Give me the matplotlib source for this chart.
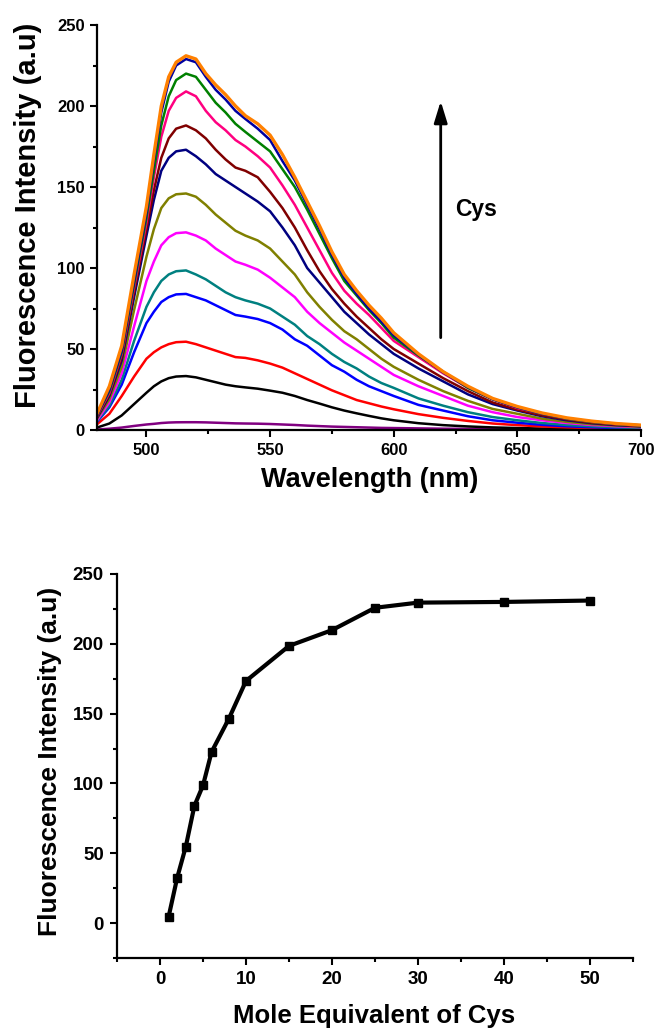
import matplotlib
matplotlib.use('Agg')
import matplotlib.pyplot as plt
from matplotlib.ticker import MultipleLocator

# ---------------- data ----------------
wavelength = [480, 485, 490, 495, 500, 503, 506, 509, 512, 516, 520, 524, 528, 532,
              536, 540, 545, 550, 555, 560, 565, 570, 575, 580, 585, 590, 595, 600,
              610, 620, 630, 640, 650, 660, 670, 680, 690, 700]

spec_purple = [0.3, 0.8, 1.5, 2.5, 3.4, 3.8, 4.3, 4.6, 4.75, 4.8, 4.8, 4.7, 4.5, 4.3,
               4.1, 4.0, 3.9, 3.7, 3.4, 3.1, 2.7, 2.4, 2.1, 1.9, 1.7, 1.5, 1.3, 1.2,
               1.0, 0.8, 0.7, 0.6, 0.5, 0.4, 0.35, 0.3, 0.25, 0.2]
spec_black = [1.5, 4, 9, 16, 23, 27, 30, 32, 33, 33.3, 32.5, 31, 29.5, 28,
              27, 26.3, 25.5, 24.3, 23, 21, 18.5, 16.3, 14, 12, 10.3, 8.7, 7.2, 6,
              4.2, 3, 2.2, 1.6, 1.2, 0.9, 0.7, 0.5, 0.4, 0.3]
spec_red = [3.5, 10, 21, 33, 44, 48, 51, 53, 54.2, 54.5, 53, 51, 49, 47,
            45, 44.5, 43, 41, 38.5, 35, 31.5, 28, 24.5, 21.5, 18.5, 16.5, 14.5, 12.8,
            9.8, 7.5, 5.6, 4, 3, 2.2, 1.6, 1.2, 0.9, 0.7]
spec_blue = [5, 14, 28, 48, 66, 73, 79, 82, 83.7, 84, 82, 80, 77, 74,
             71, 70, 68.5, 66, 62, 56, 52, 46, 40, 36, 31, 27, 24, 21,
             15.5, 12, 8.5, 6, 4.5, 3.2, 2.3, 1.7, 1.2, 0.9]
spec_teal = [5.5, 15, 31, 55, 76, 85, 92, 96, 98, 98.5, 96, 93, 89, 85,
             82, 80, 78, 75, 70, 65, 58, 53, 47, 42, 38, 33, 29, 26,
             19.5, 15, 11, 8, 6, 4.3, 3.1, 2.3, 1.7, 1.3]
spec_magenta = [6, 17, 35, 64, 92, 104, 114, 119, 121.5, 122, 120, 117, 112, 108,
                104, 102, 99, 94, 88, 82, 73, 66, 60, 54, 49, 44, 39, 34,
                27, 21, 15, 11, 8, 6, 4.3, 3.1, 2.3, 1.7]
spec_olive = [7, 19, 39, 74, 107, 124, 137, 143, 145.5, 146, 144, 139, 133, 128,
              123, 120, 117, 112, 104, 96, 85, 76, 68, 61, 56, 50, 44, 39,
              31, 24, 18, 13, 10, 7, 5, 3.6, 2.7, 2]
spec_navy = [7.5, 21, 43, 82, 120, 142, 160, 168, 172, 173, 169, 164, 158, 154,
             150, 146, 141, 135, 125, 114, 100, 91, 82, 73, 66, 59, 53, 47,
             38, 30, 22, 16, 12, 8.5, 6, 4.2, 3, 2.3]
spec_wine = [8, 22, 45, 85, 124, 148, 168, 180, 186, 188, 185, 180, 173, 167,
             162, 160, 156, 147, 137, 125, 111, 98, 87, 78, 70, 63, 56, 50,
             41, 32, 24, 17, 12.5, 9, 6.5, 4.5, 3.3, 2.5]
spec_pink = [8.5, 23, 47, 88, 128, 156, 181, 197, 205, 209, 206, 197, 190, 185,
             179, 175, 169, 162, 151, 139, 125, 111, 97, 86, 78, 71, 63, 55,
             45, 35, 26, 19, 13.5, 10, 7, 5, 3.6, 2.7]
spec_green = [9, 24, 48, 90, 131, 160, 188, 206, 216, 220, 218, 210, 202, 196,
              189, 184, 178, 172, 161, 150, 136, 121, 106, 92, 83, 74, 66, 57,
              46, 36, 26, 19, 14, 10, 7, 5, 3.7, 2.8]
spec_darkblue = [9, 25, 49, 92, 134, 166, 196, 215, 225, 229, 227, 218, 210, 204,
                 197, 192, 186, 179, 166, 154, 139, 124, 108, 94, 84, 75, 67, 58.5,
                 46.5, 35.5, 26.5, 19, 14, 10, 7.2, 5.3, 3.8, 2.9]
spec_orange = [10, 27, 52, 96, 138, 170, 200, 218, 227, 231, 229, 220, 213, 207,
               200, 194, 189, 182, 170, 156, 141, 126, 110, 96, 86, 77, 69, 60,
               47, 36, 27, 19.5, 14.5, 10.5, 7.5, 5.5, 4, 3]

spectra = [spec_purple, spec_black, spec_red, spec_blue, spec_teal, spec_magenta,
           spec_olive, spec_navy, spec_wine, spec_pink, spec_green, spec_darkblue,
           spec_orange]
spectra_colors = ['#800080', '#000000', '#FF0000', '#0000FF', '#008080', '#FF00FF',
                  '#808000', '#000080', '#800000', '#FF0080', '#008000', '#0000A0',
                  '#FF8000']

equivalents = [1, 2, 3, 4, 5, 6, 8, 10, 15, 20, 25, 30, 40, 50]
intensity = [4.5, 32.5, 54.8, 84, 98.6, 122.6, 146.3, 173.4, 198.5, 209.8, 225.8,
             229.5, 230, 231]

# ---------------- figure ----------------
plt.rcParams['font.family'] = ['Liberation Sans', 'DejaVu Sans']
plt.rcParams['font.weight'] = 'bold'

fig = plt.figure(figsize=(6.57, 10.32), dpi=100)

def style_axes(ax, labelsize, pad):
    for s in ['top', 'right']:
        ax.spines[s].set_visible(False)
    for s in ['left', 'bottom']:
        ax.spines[s].set_linewidth(1.6)
    ax.tick_params(which='major', direction='out', length=5, width=1.5,
                   labelsize=labelsize, pad=pad)
    ax.tick_params(which='minor', direction='out', length=3, width=1.5)
    for lab in ax.get_xticklabels() + ax.get_yticklabels():
        lab.set_fontweight('bold')

# top panel
ax1 = fig.add_axes([97/657, 1 - 430/1032, 544/657, 405/1032])
for spec, col in zip(spectra, spectra_colors):
    lw = 2.4 if col == '#FF8000' else 1.8
    ax1.plot(wavelength, spec, color=col, lw=lw, solid_joinstyle='round',
             solid_capstyle='round')
ax1.set_xlim(480, 700)
ax1.set_ylim(0, 250)
ax1.xaxis.set_major_locator(MultipleLocator(50))
ax1.xaxis.set_minor_locator(MultipleLocator(25))
ax1.yaxis.set_major_locator(MultipleLocator(50))
ax1.yaxis.set_minor_locator(MultipleLocator(25))
style_axes(ax1, 12, 4)
ax1.text(-0.127, 0.53, 'Fluorescence Intensity (a.u)', transform=ax1.transAxes,
         rotation=90, ha='center', va='center', fontsize=21, fontweight='bold')
ax1.text(0.501, -0.124, 'Wavelength (nm)', transform=ax1.transAxes,
         ha='center', va='center', fontsize=19.5, fontweight='bold')
ax1.annotate('', xy=(619, 203), xytext=(619, 57),
             arrowprops=dict(arrowstyle='-|>,head_length=0.65,head_width=0.2',
                             lw=2, color='black', mutation_scale=20,
                             shrinkA=0, shrinkB=0))
ax1.text(624.8, 136, 'Cys', ha='left', va='center', fontsize=16.5,
         fontweight='bold')

# bottom panel
ax2 = fig.add_axes([117/657, 1 - 958/1032, 516/657, 384/1032])
ax2.plot(equivalents, intensity, color='black', lw=3, marker='s', markersize=5.5,
         markerfacecolor='black', markeredgecolor='black')
ax2.set_xlim(-5, 55)
ax2.set_ylim(-25, 250)
ax2.xaxis.set_major_locator(MultipleLocator(10))
ax2.xaxis.set_minor_locator(MultipleLocator(5))
ax2.yaxis.set_major_locator(MultipleLocator(50))
ax2.yaxis.set_minor_locator(MultipleLocator(25))
style_axes(ax2, 13.5, 4.5)
ax2.text(-0.13, 0.511, 'Fluorescence Intensity (a.u)', transform=ax2.transAxes,
         rotation=90, ha='center', va='center', fontsize=19, fontweight='bold')
ax2.text(0.498, -0.151, 'Mole Equivalent of Cys', transform=ax2.transAxes,
         ha='center', va='center', fontsize=18.5, fontweight='bold')

fig.savefig('out.png', dpi=100)
